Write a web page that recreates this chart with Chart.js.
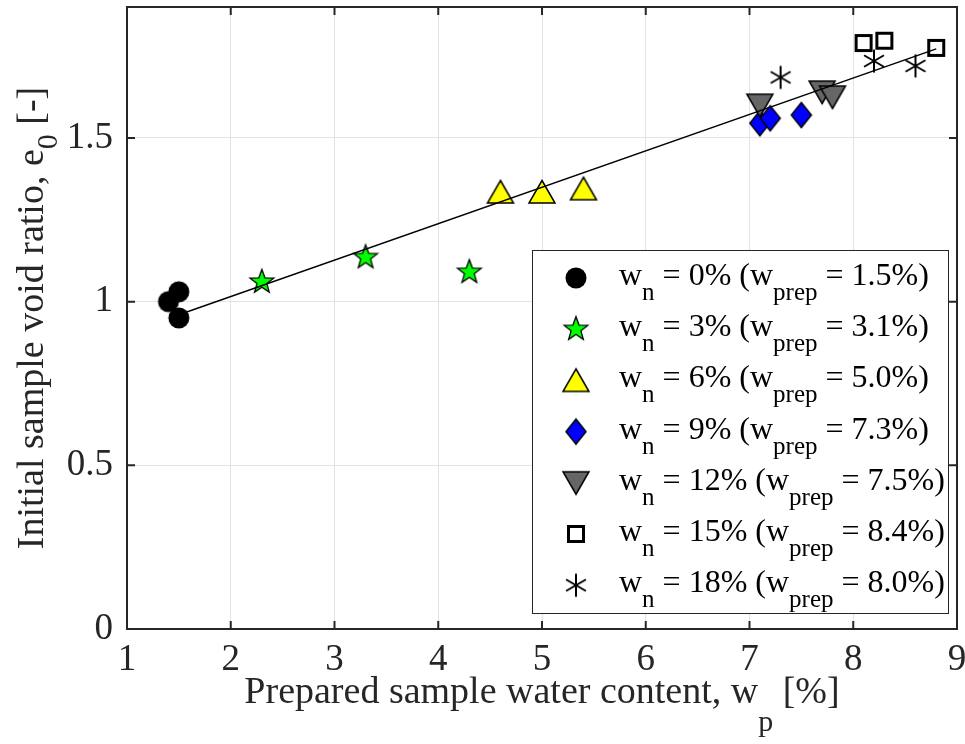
<!DOCTYPE html>
<html>
<head>
<meta charset="utf-8">
<script src="https://cdn.jsdelivr.net/npm/chart.js@4.4.1/dist/chart.umd.min.js"></script>
<style>
  html, body { margin: 0; padding: 0; background: #fff; }
  #wrap { width: 965px; height: 744px; }
</style>
</head>
<body>
<div id="wrap"><canvas id="chart-void"></canvas></div>
<script>
// prepared water content w_p [%] vs initial void ratio e0 [-]
const wn0_x = [1.4, 1.5, 1.5];
const wn0_y = [1.0, 1.03, 0.95];
const wn3_x = [2.3, 3.3, 4.3];
const wn3_y = [1.06, 1.135, 1.09];
const wn6_x = [4.6, 5.0, 5.4];
const wn6_y = [1.335, 1.335, 1.345];
const wn9_x = [7.1, 7.2, 7.5];
const wn9_y = [1.545, 1.56, 1.57];
const wn12_x = [7.1, 7.7, 7.8];
const wn12_y = [1.6, 1.64, 1.625];
const wn15_x = [8.1, 8.3, 8.8];
const wn15_y = [1.79, 1.797, 1.775];
const wn18_x = [7.3, 8.2, 8.6];
const wn18_y = [1.685, 1.735, 1.72];

// linear fit drawn through the data
const fit_x = [1.5, 8.8];
const fit_y = [0.96, 1.772];

const wnLabels = ["0%", "3%", "6%", "9%", "12%", "15%", "18%"];
const wprepLabels = ["1.5%", "3.1%", "5.0%", "7.3%", "7.5%", "8.4%", "8.0%"];

const xTicks = [1, 2, 3, 4, 5, 6, 7, 8, 9];
const yTicks = [0, 0.5, 1, 1.5];

const SERIF = "'Liberation Serif', 'Times New Roman', serif";
const INK = "#262626";
const TICK_FONT = 37;
const TITLE_FONT = 38;
const LEG_FONT = 32;
const LEG_SUB = 25;

// marker images (matlab style)
function marker(w, h, draw) {
  const c = document.createElement("canvas");
  c.width = w; c.height = h;
  const g = c.getContext("2d");
  g.translate(w / 2, h / 2);
  draw(g);
  return c;
}
const mkCircle = marker(24, 24, g => {
  g.beginPath(); g.arc(0, 0, 10.5, 0, Math.PI * 2);
  g.fillStyle = "#000"; g.fill();
});
const mkStar = marker(30, 30, g => {
  g.beginPath();
  for (let i = 0; i < 10; i++) {
    const r = i % 2 ? 5.2 : 12.5;
    const a = -Math.PI / 2 + i * Math.PI / 5;
    g.lineTo(Math.cos(a) * r, Math.sin(a) * r);
  }
  g.closePath();
  g.fillStyle = "#00ff00"; g.fill();
  g.lineWidth = 1.3; g.strokeStyle = "#000"; g.stroke();
});
const mkTriUp = marker(32, 28, g => {
  g.beginPath(); g.moveTo(0, -11.5); g.lineTo(13, 11); g.lineTo(-13, 11); g.closePath();
  g.fillStyle = "#ffff00"; g.fill();
  g.lineWidth = 1.5; g.strokeStyle = "#000"; g.stroke();
});
const mkTriDown = marker(32, 28, g => {
  g.beginPath(); g.moveTo(0, 11.5); g.lineTo(13, -11); g.lineTo(-13, -11); g.closePath();
  g.fillStyle = "#666666"; g.fill();
  g.lineWidth = 1.5; g.strokeStyle = "#000"; g.stroke();
});
const mkDiamond = marker(24, 30, g => {
  g.beginPath(); g.moveTo(0, -12.5); g.lineTo(10, 0); g.lineTo(0, 12.5); g.lineTo(-10, 0); g.closePath();
  g.fillStyle = "#0000ff"; g.fill();
  g.lineWidth = 1.5; g.strokeStyle = "#000"; g.stroke();
});
const mkSquare = marker(24, 24, g => {
  g.lineWidth = 3; g.strokeStyle = "#000";
  g.strokeRect(-7.5, -7.5, 15, 15);
});
const mkAsterisk = marker(28, 28, g => {
  g.beginPath();
  for (let i = 0; i < 3; i++) {
    const a = Math.PI / 2 + i * Math.PI / 3;
    g.moveTo(Math.cos(a) * 11.5, Math.sin(a) * 11.5);
    g.lineTo(-Math.cos(a) * 11.5, -Math.sin(a) * 11.5);
  }
  g.lineWidth = 2; g.strokeStyle = "#000"; g.stroke();
});

const groups = [
  [wn0_x, wn0_y, mkCircle],
  [wn3_x, wn3_y, mkStar],
  [wn6_x, wn6_y, mkTriUp],
  [wn9_x, wn9_y, mkDiamond],
  [wn12_x, wn12_y, mkTriDown],
  [wn15_x, wn15_y, mkSquare],
  [wn18_x, wn18_y, mkAsterisk],
];

const pts = (xs, ys) => xs.map((v, i) => ({ x: v, y: ys[i] }));

const datasets = groups.map((gr, i) => ({
  label: "wn = " + wnLabels[i],
  data: pts(gr[0], gr[1]),
  pointStyle: gr[2],
  showLine: false,
  order: 10 - i,
}));
datasets.push({
  label: "fit",
  data: pts(fit_x, fit_y),
  showLine: true,
  borderColor: "#000",
  borderWidth: 1.4,
  pointRadius: 0,
  order: 0,
});

// draw text with subscripts, parts = [[text, isSub], ...]
function richText(ctx, parts, x, y, main, sub, drop) {
  let cx = x;
  parts.forEach(([t, s]) => {
    ctx.font = (s ? sub : main) + "px " + SERIF;
    ctx.fillText(t, cx, s ? y + drop : y);
    cx += ctx.measureText(t).width;
  });
  return cx - x;
}
function richWidth(ctx, parts, main, sub) {
  let w = 0;
  parts.forEach(([t, s]) => { ctx.font = (s ? sub : main) + "px " + SERIF; w += ctx.measureText(t).width; });
  return w;
}

const decor = {
  id: "decor",
  afterDraw(chart) {
    const { ctx, chartArea: a, scales: { x, y } } = chart;
    ctx.save();

    // box and inward ticks
    ctx.strokeStyle = INK;
    ctx.lineWidth = 2;
    ctx.strokeRect(a.left, a.top, a.right - a.left, a.bottom - a.top);
    ctx.beginPath();
    xTicks.forEach(v => {
      const px = x.getPixelForValue(v);
      ctx.moveTo(px, a.bottom); ctx.lineTo(px, a.bottom - 8);
      ctx.moveTo(px, a.top); ctx.lineTo(px, a.top + 8);
    });
    yTicks.forEach(v => {
      const py = y.getPixelForValue(v);
      ctx.moveTo(a.left, py); ctx.lineTo(a.left + 8, py);
      ctx.moveTo(a.right, py); ctx.lineTo(a.right - 8, py);
    });
    ctx.stroke();

    // legend
    const lw = 416, lh = 363;
    const lx = a.right - 9 - lw, ly = a.bottom - 16 - lh;
    ctx.fillStyle = "#fff";
    ctx.fillRect(lx, ly, lw, lh);
    ctx.lineWidth = 1;
    ctx.strokeStyle = INK;
    ctx.strokeRect(lx + 0.5, ly + 0.5, lw, lh);
    ctx.fillStyle = "#000";
    ctx.textBaseline = "alphabetic";
    ctx.textAlign = "left";
    groups.forEach((gr, i) => {
      const cy = ly + 28 + i * 51.2;
      const img = gr[2];
      ctx.drawImage(img, lx + 44 - img.width / 2, cy - img.height / 2);
      const parts = [["w", 0], ["n", 1], [" = " + wnLabels[i] + " (w", 0], ["prep", 1], [" = " + wprepLabels[i] + ")", 0]];
      richText(ctx, parts, lx + 87, cy + 7, LEG_FONT, LEG_SUB, 15);
    });

    // axis titles
    ctx.fillStyle = INK;
    const xt = [["Prepared sample water content, w", 0], ["p", 1], [" [%]", 0]];
    const xw = richWidth(ctx, xt, TITLE_FONT, 30);
    richText(ctx, xt, (a.left + a.right) / 2 - xw / 2, a.bottom + 74, TITLE_FONT, 30, 28);

    const yt = [["Initial sample void ratio, e", 0], ["0", 1], [" [-]", 0]];
    const yw = richWidth(ctx, yt, TITLE_FONT, 30);
    ctx.translate(43, (a.top + a.bottom) / 2);
    ctx.rotate(-Math.PI / 2);
    richText(ctx, yt, -yw / 2, 0, TITLE_FONT, 30, 14);
    ctx.restore();
  }
};

new Chart(document.getElementById("chart-void"), {
  type: "scatter",
  data: { datasets: datasets },
  options: {
    responsive: true,
    maintainAspectRatio: false,
    animation: false,
    layout: { padding: { top: 7, right: 8, left: 0, bottom: 0 } },
    plugins: { legend: { display: false }, tooltip: { enabled: false } },
    scales: {
      x: {
        type: "linear",
        min: 1, max: 9,
        afterBuildTicks: s => { s.ticks = xTicks.map(v => ({ value: v })); },
        afterFit: s => { s.height = 115; s.paddingLeft = 0; s.paddingRight = 0; },
        grid: { color: "#e3e3e3", lineWidth: 1, drawTicks: false },
        border: { display: false },
        ticks: { color: INK, padding: 9, font: { family: SERIF, size: TICK_FONT }, callback: v => String(v) },
      },
      y: {
        type: "linear",
        min: 0, max: 1.9,
        afterBuildTicks: s => { s.ticks = yTicks.map(v => ({ value: v })); },
        afterFit: s => { s.width = 127; s.paddingTop = 0; s.paddingBottom = 0; },
        grid: { color: "#e3e3e3", lineWidth: 1, drawTicks: false },
        border: { display: false },
        ticks: { color: INK, padding: 14, font: { family: SERIF, size: TICK_FONT }, callback: v => String(v) },
      },
    },
  },
  plugins: [decor],
});
</script>
</body>
</html>
